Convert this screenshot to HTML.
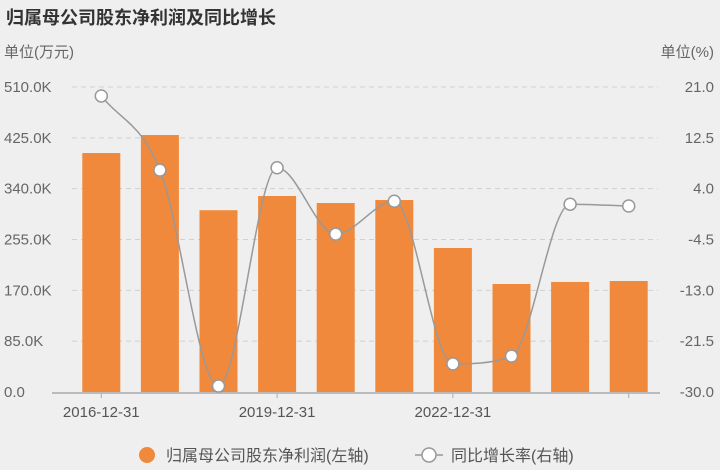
<!DOCTYPE html>
<html><head><meta charset="utf-8">
<style>
body{margin:0;background:#efefef;}
svg{display:block;font-family:"Liberation Sans","Noto Sans CJK SC",sans-serif;}
</style></head>
<body>
<svg id="chart" width="720" height="470">
<rect x="0" y="0" width="720" height="470" fill="#efefef"/>
<text x="6" y="24" font-size="18" font-weight="bold" fill="#333">归属母公司股东净利润及同比增长</text>
<text x="4" y="57" font-size="15" fill="#666">单位(万元)</text>
<text x="714" y="57" font-size="15" fill="#666" text-anchor="end">单位(%)</text>
<g id="grid"></g><g id="bars"></g><g id="line"></g><g id="axes"></g>
<g>
<circle cx="147" cy="455" r="8" fill="#f0893b"/>
<text x="166" y="461" font-size="16" fill="#555">归属母公司股东净利润(左轴)</text>
<line x1="415" y1="455" x2="443" y2="455" stroke="#999" stroke-width="1.5"/>
<circle cx="429" cy="455" r="7" fill="#fff" stroke="#999" stroke-width="1.5"/>
<text x="451" y="461" font-size="16" fill="#555">同比增长率(右轴)</text>
</g>
</svg>
<script>
const categories=["2016-12-31","2017-12-31","2018-12-31","2019-12-31","2020-12-31","2021-12-31","2022-12-31","2023-12-31","2024-12-31","2025-12-31"];
const profitValues=[399.6,429.7,304,327.7,316,321,240.8,180.6,184,185.6];
const growthValues=[19.5,7.1,-29.0,7.5,-3.6,1.9,-25.3,-24.0,1.4,1.1];
const leftTicks=[0,85,170,255,340,425,510];
const rightTicks=[-30,-21.5,-13,-4.5,4,12.5,21];
const labelIdx=[0,3,6];
const tickIdx=[0,3,6,9];
const NS="http://www.w3.org/2000/svg";
const L=72,R=658,T=87,B=392;
const step=(R-L)/categories.length;
const xC=i=>L+step*(i+0.5);
const yL=v=>B-(v/510)*(B-T);
const yR=v=>B-((v+30)/51)*(B-T);
function mk(tag,attrs,parent){const e=document.createElementNS(NS,tag);for(const k in attrs)e.setAttribute(k,attrs[k]);document.getElementById(parent).appendChild(e);return e;}
leftTicks.forEach((t,i)=>{
  const y=yL(t);
  if(i>0){const g=mk('line',{x1:L,x2:R,y1:y,y2:y,stroke:'#d0d0d0','stroke-dasharray':'5,4'},'grid');
  
  }
  const a=mk('text',{x:4,y:y+5,'font-size':15,fill:'#666'},'axes');a.textContent=t.toFixed(1)+(t?'K':'');
  if(!t)a.textContent='0.0';
  
  
  const b=mk('text',{x:714,y:yR(rightTicks[i])+5,'font-size':15,fill:'#666','text-anchor':'end'},'axes');b.textContent=rightTicks[i].toFixed(1);
  
  
});
profitValues.forEach((v,i)=>{
  const r=mk('rect',{x:xC(i)-19,y:yL(v),width:38,height:B-yL(v),fill:'#f0893b'},'bars');
  
  
});
const ax=mk('line',{x1:L-20,x2:R+2,y1:B+1,y2:B+1,stroke:'#aaa','stroke-width':1.5},'axes');


tickIdx.forEach(i=>{
  const tk=mk('line',{x1:xC(i),x2:xC(i),y1:B+1,y2:B+6,stroke:'#aaa'},'axes');
  
  
});
labelIdx.forEach(i=>{
  const t=mk('text',{x:Math.max(xC(i),89),y:B+25,'font-size':15,fill:'#555','text-anchor':'middle'},'axes');
  t.textContent=categories[i];
  
  
});
// monotone cubic interpolation
const pts=growthValues.map((v,i)=>[xC(i),yR(v)]);
const n=pts.length;
const dx=[],sl=[];
for(let i=0;i<n-1;i++){dx.push(pts[i+1][0]-pts[i][0]);sl.push((pts[i+1][1]-pts[i][1])/dx[i]);}
const m=[sl[0]];
for(let i=1;i<n-1;i++){m.push(sl[i-1]*sl[i]<=0?0:(sl[i-1]+sl[i])/2);}
m.push(sl[n-2]);
for(let i=0;i<n-1;i++){
  if(sl[i]===0){m[i]=0;m[i+1]=0;continue;}
  const a=m[i]/sl[i],b=m[i+1]/sl[i],s=a*a+b*b;
  if(s>9){const t=3/Math.sqrt(s);m[i]=t*a*sl[i];m[i+1]=t*b*sl[i];}
}
let d='M'+pts[0][0]+','+pts[0][1];
for(let i=0;i<n-1;i++){
  const h=dx[i]/3;
  d+=' C'+(pts[i][0]+h)+','+(pts[i][1]+m[i]*h)+' '+(pts[i+1][0]-h)+','+(pts[i+1][1]-m[i+1]*h)+' '+pts[i+1][0]+','+pts[i+1][1];
}
const ln=mk('path',{d:d,fill:'none',stroke:'#999','stroke-width':1.5},'line');


pts.forEach((p,i)=>{
  const c=mk('circle',{cx:p[0],cy:p[1],r:6,fill:'#fff',stroke:'#999','stroke-width':1.5},'line');
  
  
});
</script>
</body></html>
